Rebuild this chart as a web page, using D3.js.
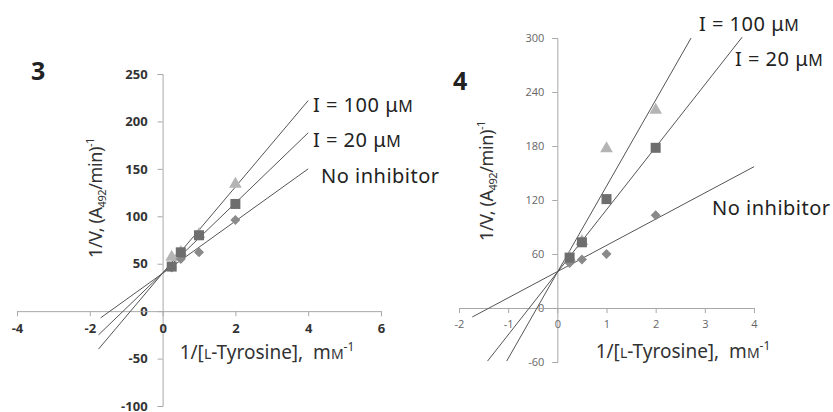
<!DOCTYPE html>
<html>
<head>
<meta charset="utf-8">
<script src="https://cdn.jsdelivr.net/npm/d3@7"></script>
<style>
  body { margin: 0; background: #fff; }
  svg { display: block; font-family: "Noto Sans", "DejaVu Sans", sans-serif; }
</style>
</head>
<body>
<div id="chart"></div>
<script>
// substrate concentrations (1/[L-Tyr], mM^-1)
const xVals = [0.25, 0.5, 1, 2];

// panel 3 readings
const p3None = [46, 55, 62, 96];
const p3I20 = [47, 62, 80, 113];
const p3I100 = [57, 62, 81, 134];
// fitted line ends [x0, y0, x1, y1]
const p3Lines = {
  none: [-1.7, -7, 4.0, 150],
  i20: [-1.76, -25, 4.0, 188],
  i100: [-1.76, -40, 4.0, 222]
};
const p3XTicks = [-4, -2, 0, 2, 4, 6];
const p3YTicks = [-100, -50, 0, 50, 100, 150, 200, 250];

// panel 4 readings
const p4None = [50, 54, 60, 103];
const p4I20 = [56, 73, 121, 178];
const p4I100 = [56, 74, 177, 220];
const p4Lines = {
  none: [-1.73, -10, 4.0, 157],
  i20: [-1.42, -59, 3.76, 301],
  i100: [-1.03, -59, 2.72, 300]
};
const p4XTicks = [-2, -1, 0, 1, 2, 3, 4];
const p4YTicks = [-60, 0, 60, 120, 180, 240, 300];

const width = 833, height = 412;
const svg = d3.select('#chart').append('svg')
  .attr('width', width)
  .attr('height', height);

const lineColor = '#555';
const axisColor = '#a8a8a8';
const colNone = '#8a8a8a', col20 = '#6e6e6e', col100 = '#b4b4b4';
const plainNum = d => String(d);  // keep hyphen minus like the original

function drawPanel(opt) {
  const x = d3.scaleLinear().domain(opt.xDomain).range(opt.xRange);
  const y = d3.scaleLinear().domain(opt.yDomain).range(opt.yRange);
  const g = svg.append('g');

  // y axis
  const yAxis = d3.axisLeft(y).tickValues(opt.yTicks).tickFormat(plainNum)
    .tickSize(5).tickPadding(opt.yPad);
  const ya = g.append('g').attr('transform', 'translate(' + x(0) + ',0)').call(yAxis);
  // x axis
  const xAxis = d3.axisBottom(x).tickValues(opt.xTicks).tickFormat(plainNum)
    .tickSize(5).tickPadding(opt.xPad);
  const xa = g.append('g').attr('transform', 'translate(0,' + y(0) + ')').call(xAxis);

  [ya, xa].forEach(a => {
    a.select('.domain').attr('stroke', axisColor).attr('stroke-width', 1);
    a.selectAll('.tick line').attr('stroke', axisColor);
    a.selectAll('.tick text')
      .attr('fill', opt.tickColor)
      .style('font-family', opt.tickFont)
      .style('font-size', opt.tickSize + 'px')
      .style('font-weight', opt.tickWeight);
  });

  // trend lines
  Object.values(opt.lines).forEach(l => {
    g.append('line')
      .attr('x1', x(l[0])).attr('y1', y(l[1]))
      .attr('x2', x(l[2])).attr('y2', y(l[3]))
      .attr('stroke', lineColor).attr('stroke-width', 1);
  });

  const pts = (arr) => arr.map((v, i) => [xVals[i], v]);

  g.selectAll('.tri').data(pts(opt.i100)).enter().append('path')
    .attr('d', d3.symbol(d3.symbolTriangle, 70)())
    .attr('transform', d => 'translate(' + x(d[0]) + ',' + y(d[1]) + ')')
    .attr('fill', col100);
  g.selectAll('.dia').data(pts(opt.none)).enter().append('path')
    .attr('d', 'M0,-5L5,0L0,5L-5,0Z')
    .attr('transform', d => 'translate(' + x(d[0]) + ',' + y(d[1]) + ')')
    .attr('fill', colNone);
  g.selectAll('.sq').data(pts(opt.i20)).enter().append('rect')
    .attr('x', d => x(d[0]) - 5).attr('y', d => y(d[1]) - 5)
    .attr('width', 10).attr('height', 10)
    .attr('fill', col20);

  // panel number
  g.append('text').attr('x', opt.numPos[0]).attr('y', opt.numPos[1])
    .style('font-size', '25px').style('font-weight', 'bold').attr('fill', '#222')
    .text(opt.num);

  // y title
  const yt = g.append('text')
    .attr('transform', 'translate(' + opt.yTitle[0] + ',' + opt.yTitle[1] + ') rotate(-90)')
    .attr('text-anchor', 'middle')
    .style('font-size', '18px').style('letter-spacing', '-0.4px').attr('fill', '#333');
  yt.append('tspan').text('1/V, (A');
  yt.append('tspan').attr('dy', 4).style('font-size', '11px').text('492');
  yt.append('tspan').attr('dy', -4).text('/min)');
  yt.append('tspan').attr('dy', -8).style('font-size', '11px').text('-1');

  // x title
  const xt = g.append('text')
    .attr('x', opt.xTitle[0]).attr('y', opt.xTitle[1])
    .attr('text-anchor', 'middle')
    .style('white-space', 'pre')
    .style('font-size', '19px').attr('fill', '#333');
  xt.append('tspan').text('1/[');
  xt.append('tspan').style('font-size', '14px').text('L');
  xt.append('tspan').text('-Tyrosine],  m');
  xt.append('tspan').style('font-size', '14px').text('M');
  xt.append('tspan').attr('dy', -8).style('font-size', '12px').text('-1');

  // series labels
  opt.labels.forEach(lb => {
    const t = g.append('text').attr('x', lb.x).attr('y', lb.y)
      .style('font-size', '20px').style('letter-spacing', '0.5px').attr('fill', '#222');
    if (lb.text.endsWith('μM')) {
      t.append('tspan').text(lb.text.slice(0, -1));
      t.append('tspan').style('font-size', '16px').text('M');
    } else {
      t.text(lb.text);
    }
  });
}

drawPanel({
  num: '3', numPos: [31, 80],
  xDomain: [-4, 6], xRange: [17, 381],
  yDomain: [-100, 250], yRange: [406, 74],
  xTicks: p3XTicks, yTicks: p3YTicks,
  xPad: 8, yPad: 10,
  tickColor: '#333', tickFont: '"Open Sans", sans-serif', tickSize: 13, tickWeight: 'bold',
  none: p3None, i20: p3I20, i100: p3I100, lines: p3Lines,
  yTitle: [102, 198], xTitle: [267, 359],
  labels: [
    { text: 'I = 100 μM', x: 313, y: 112 },
    { text: 'I = 20 μM', x: 313, y: 147 },
    { text: 'No inhibitor', x: 321, y: 183 }
  ]
});

drawPanel({
  num: '4', numPos: [453, 90],
  xDomain: [-2, 4], xRange: [459, 754],
  yDomain: [-60, 300], yRange: [362, 38],
  xTicks: p4XTicks, yTicks: p4YTicks,
  xPad: 7, yPad: 8,
  tickColor: '#666', tickFont: '"Open Sans", sans-serif', tickSize: 11, tickWeight: 'normal',
  none: p4None, i20: p4I20, i100: p4I100, lines: p4Lines,
  yTitle: [493, 181], xTitle: [683, 358],
  labels: [
    { text: 'I = 100 μM', x: 699, y: 31 },
    { text: 'I = 20 μM', x: 735, y: 66 },
    { text: 'No inhibitor', x: 712, y: 215 }
  ]
});
</script>
</body>
</html>
